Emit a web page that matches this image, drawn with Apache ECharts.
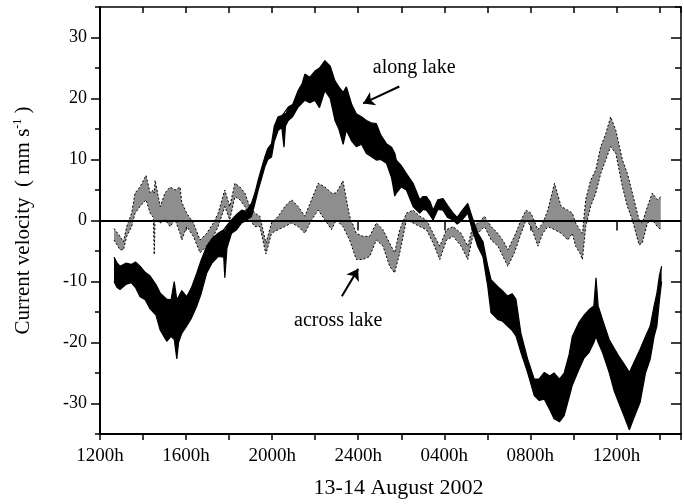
<!DOCTYPE html>
<html>
<head>
<meta charset="utf-8">
<script src="https://cdn.jsdelivr.net/npm/echarts@6/dist/echarts.min.js"></script>
<style>html,body{margin:0;padding:0;background:#fff;}#c{width:684px;height:504px;}</style>
</head>
<body>
<div id="c"></div>
<script>
// ---- data (time in hours from 00:00 on 13 Aug) ----
const alongT  = [12.65,12.8,12.93,13.2,13.45,13.65,13.86,14.1,14.33,14.6,14.8,15.1,15.3,15.45,15.57,15.65,15.8,16.03,16.25,16.5,16.7,16.96,17.2,17.49,17.75,17.8,17.9,18.11,18.35,18.58,18.8,19.04,19.2,19.35,19.5,19.66,19.8,19.97,20.1,20.28,20.45,20.55,20.62,20.75,20.95,21.21,21.4,21.52,21.75,21.99,22.2,22.45,22.7,22.92,23.1,23.3,23.45,23.7,23.91,24.15,24.38,24.6,24.84,25.05,25.31,25.55,25.7,25.77,26.0,26.24,26.55,26.86,27.0,27.17,27.35,27.48,27.7,27.94,28.15,28.41,28.6,28.8,29.09,29.3,29.55,29.8,30.02,30.17,30.48,30.7,30.94,31.15,31.33,31.56,31.87,32.18,32.4,32.65,32.9,33.1,33.35,33.57,33.8,33.95,34.26,34.5,34.73,34.95,35.05,35.15,35.35,35.66,35.9,36.1,36.35,36.6,36.85,37.1,37.35,37.57,37.75,37.88,38.0,38.1];
const alongHi = [-6.0,-7.0,-7.5,-7.0,-7.2,-6.8,-7.5,-8.5,-9.1,-10.5,-11.9,-12.9,-13.0,-10.0,-13.0,-12.5,-11.5,-12.5,-11.0,-8.6,-6.5,-4.2,-3.0,-2.1,-1.5,-1.5,-0.8,0.1,1.0,1.7,1.5,2.8,4.5,6.6,8.5,10.4,11.8,12.6,15.5,17.0,17.2,17.6,17.6,18.6,19.0,21.3,22.5,24.0,23.5,24.5,25.0,26.2,25.3,22.9,21.9,21.0,21.9,19.0,17.5,17.0,16.4,16.0,15.9,14.0,12.6,12.0,11.0,9.9,9.0,7.7,6.1,3.4,3.9,3.9,3.0,1.7,3.4,3.6,2.5,1.2,0.5,1.5,2.8,0.5,-2.0,-3.5,-7.5,-9.7,-10.8,-11.5,-12.4,-12.0,-12.9,-18.5,-22.7,-26.0,-26.0,-24.9,-25.5,-25.0,-26.0,-25.0,-22.0,-19.0,-16.7,-15.5,-14.6,-14.0,-9.4,-14.0,-16.2,-19.5,-21.0,-22.2,-23.5,-24.9,-23.0,-21.1,-19.0,-17.3,-14.0,-11.9,-9.0,-7.5];
const alongLo = [-10.0,-11.0,-11.3,-10.5,-10.2,-11.0,-12.5,-13.0,-14.5,-15.5,-18.0,-19.8,-19.0,-19.5,-22.7,-20.0,-18.5,-17.3,-16.0,-14.0,-12.0,-8.6,-7.0,-5.9,-6.0,-9.4,-4.5,-2.1,-1.5,-0.4,0.0,0.7,2.8,5.0,6.8,8.8,10.0,10.4,13.0,14.8,15.2,12.0,15.5,16.4,17.0,18.6,19.3,19.7,19.3,19.7,18.5,21.3,20.0,16.4,15.0,12.5,14.8,13.0,12.1,12.5,11.0,10.5,9.9,10.0,9.4,7.0,4.0,4.5,5.5,5.0,2.3,1.2,1.8,1.7,0.8,0.1,1.8,1.7,0.5,0.1,-0.6,0.0,1.2,-1.5,-4.2,-6.0,-10.8,-15.1,-16.2,-16.5,-17.3,-18.0,-18.9,-21.6,-24.9,-28.7,-29.5,-29.3,-31.0,-32.5,-33.0,-32.0,-29.0,-27.0,-24.4,-22.5,-21.6,-20.0,-19.0,-20.0,-21.6,-24.9,-28.0,-29.8,-32.0,-34.3,-32.0,-29.8,-25.0,-22.7,-19.0,-17.3,-13.0,-10.0];

const acrossT  = [12.65,12.93,13.09,13.24,13.47,13.63,13.86,14.14,14.33,14.48,14.52,14.56,14.8,15.02,15.26,15.49,15.72,15.8,16.03,16.34,16.65,16.96,17.27,17.49,17.8,18.03,18.27,18.5,18.73,18.96,19.2,19.43,19.71,19.97,20.28,20.59,20.9,21.21,21.52,21.83,22.14,22.45,22.76,22.98,23.29,23.6,23.91,24.22,24.53,24.84,25.15,25.46,25.69,25.93,26.24,26.55,26.86,27.17,27.48,27.79,28.1,28.41,28.78,29.09,29.32,29.56,29.87,30.18,30.49,30.8,30.95,31.26,31.57,31.8,32.03,32.35,32.58,32.81,33.12,33.43,33.74,33.95,34.1,34.3,34.42,34.57,34.8,35.04,35.27,35.5,35.73,35.97,36.28,36.51,36.74,37.05,37.2,37.44,37.67,37.9,38.06];
const acrossHi = [-1.3,-2.6,-3.5,-1.0,1.2,4.5,5.5,7.4,4.5,5.0,4.5,6.6,2.3,4.5,5.5,5.0,5.5,3.0,1.2,-0.4,-3.2,-2.1,-0.4,1.2,5.0,2.3,6.1,5.5,4.5,2.3,1.2,0.7,-3.7,-0.4,0.7,2.3,3.4,2.3,0.7,3.4,6.1,5.5,4.5,4.5,6.5,0.7,-2.1,-2.6,-2.6,-0.4,-1.5,-3.7,-5.3,-1.5,1.2,1.7,0.7,0.1,-2.1,-4.2,-1.5,-1.0,-2.1,-4.2,-1.0,-0.4,0.7,-1.0,-2.1,-3.7,-4.8,-2.6,0.1,1.7,1.2,-1.5,-0.4,1.7,6.1,2.3,1.7,1.2,-0.4,-1.5,-2.1,3.4,6.6,8.3,12.1,14.2,17.0,14.8,9.9,7.7,4.5,0.1,-0.4,2.3,4.5,3.4,3.9];
const acrossLo = [-3.2,-4.8,-4.8,-2.6,-1.0,1.2,2.3,3.4,1.2,0.5,-5.6,0.1,-0.4,0.1,-1.0,0.1,-2.1,-3.2,-1.0,-2.6,-5.3,-4.2,-2.6,-1.0,2.3,0.1,3.9,3.4,2.3,0.1,-1.0,-1.0,-5.5,-2.1,-1.5,-1.0,-0.4,-1.0,-2.1,0.1,1.7,0.1,-1.5,0.1,-1.0,-3.2,-6.4,-6.4,-5.9,-3.2,-4.2,-7.5,-8.6,-5.3,0.1,-0.4,-1.0,-1.5,-3.7,-6.4,-3.2,-2.6,-4.2,-6.4,-2.6,-2.1,-1.0,-3.2,-4.2,-6.4,-7.5,-5.3,-2.1,0.1,-1.0,-4.2,-2.1,-1.0,-1.5,-2.1,-3.2,-2.1,-4.2,-5.3,-6.4,-1.0,2.3,4.5,7.7,9.9,12.1,11.0,5.5,2.3,0.1,-4.0,-3.7,-0.4,0.1,-1.0,-1.5];

const xTickValues = [12,16,20,24,28,32,36];
const xTickLabels = ['1200h','1600h','2000h','2400h','0400h','0800h','1200h'];
const yTickValues = [-30,-20,-10,0,10,20,30];
const yTickLabels = ['-30','-20','-10','0','10','20','30'];

const FONT = '"Liberation Serif","DejaVu Serif",serif';

function band(t, hi, lo) { return t.map((v, i) => [v, hi[i], lo[i]]); }
function pairs(t, v) { return t.map((x, i) => [x, v[i]]); }

// one polygon per band: upper edge forward, lower edge back
function bandRenderer(fill) {
  return function (params, api) {
    if (params.dataIndexInside !== 0) return null;
    const n = params.dataInsideLength;
    const top = [], bot = [];
    for (let i = 0; i < n; i++) {
      top.push(api.coord([api.value(0, i), api.value(1, i)]));
      bot.push(api.coord([api.value(0, i), api.value(2, i)]));
    }
    return {
      type: 'polygon',
      shape: { points: top.concat(bot.reverse()) },
      style: { fill: fill, stroke: null }
    };
  };
}

const chart = echarts.init(document.getElementById('c'), null, { renderer: 'canvas' });

const xBase = { type: 'value', min: 12, max: 39, interval: 2, gridIndex: 0, splitLine: { show: false } };
const yBase = { type: 'value', min: -35, max: 35, interval: 5, gridIndex: 0, splitLine: { show: false } };
const tickLine = { color: '#000', width: 1.5 };

chart.setOption({
  animation: false,
  backgroundColor: '#fff',
  grid: { left: 100, top: 7, width: 581, height: 427, containLabel: false },
  xAxis: [
    Object.assign({}, xBase, {
      position: 'bottom',
      axisLine: { show: true, onZero: false, lineStyle: { color: '#000', width: 2 } },
      axisTick: { show: true, inside: false, length: 6, lineStyle: tickLine },
      axisLabel: { show: false },
      name: '13-14 August 2002', nameLocation: 'middle', nameGap: 43,
      nameTextStyle: { fontFamily: FONT, fontSize: 22, color: '#000', padding: [0, 0, 0, 16] }
    }),
    Object.assign({}, xBase, {
      position: 'bottom',
      axisLine: { show: false },
      axisTick: { show: true, inside: false, length: 10, customValues: xTickValues, lineStyle: tickLine },
      axisLabel: {
        show: true, margin: 13, customValues: xTickValues,
        formatter: v => xTickLabels[xTickValues.indexOf(v)] || '',
        fontFamily: FONT, fontSize: 19, color: '#000'
      }
    }),
    Object.assign({}, xBase, {
      position: 'top',
      axisLine: { show: true, onZero: false, lineStyle: tickLine },
      axisTick: { show: true, inside: true, length: 6, lineStyle: tickLine },
      axisLabel: { show: false }
    }),
    Object.assign({}, xBase, {
      position: 'top',
      axisLine: { show: false },
      axisTick: { show: true, inside: true, length: 9, customValues: xTickValues, lineStyle: tickLine },
      axisLabel: { show: false }
    })
  ],
  yAxis: [
    Object.assign({}, yBase, {
      position: 'left',
      axisLine: { show: true, onZero: false, lineStyle: { color: '#000', width: 2 } },
      axisTick: { show: true, inside: false, length: 5, lineStyle: tickLine },
      axisLabel: { show: false },
      name: 'Current velocity  ( mm s{sup|-1} )', nameLocation: 'middle', nameGap: 66,
      nameTextStyle: {
        fontFamily: FONT, fontSize: 21, color: '#000',
        rich: { sup: { fontFamily: FONT, fontSize: 12, verticalAlign: 'top', padding: [0, 0, 10, 0], color: '#000' } }
      }
    }),
    Object.assign({}, yBase, {
      position: 'left',
      axisLine: { show: false },
      axisTick: { show: true, inside: false, length: 9, customValues: yTickValues, lineStyle: tickLine },
      axisLabel: {
        show: true, margin: 13, customValues: yTickValues,
        formatter: v => yTickLabels[yTickValues.indexOf(v)] || '',
        fontFamily: FONT, fontSize: 18, color: '#000'
      }
    }),
    Object.assign({}, yBase, {
      position: 'right',
      axisLine: { show: true, onZero: false, lineStyle: tickLine },
      axisTick: { show: true, inside: true, length: 6, lineStyle: tickLine },
      axisLabel: { show: false }
    }),
    Object.assign({}, yBase, {
      position: 'right',
      axisLine: { show: false },
      axisTick: { show: true, inside: true, length: 10, customValues: yTickValues, lineStyle: tickLine },
      axisLabel: { show: false }
    })
  ],
  series: [
    {
      name: 'across lake band', type: 'custom', xAxisIndex: 0, yAxisIndex: 0,
      renderItem: bandRenderer('#8e8e8e'), clip: true, silent: true,
      encode: { x: 0, y: [1, 2] },
      data: band(acrossT, acrossHi, acrossLo), z: 2
    },
    {
      name: 'across lake upper', type: 'line', xAxisIndex: 0, yAxisIndex: 0, symbol: 'none', silent: true,
      lineStyle: { color: '#000', width: 1, type: [2, 2] }, data: pairs(acrossT, acrossHi), z: 3
    },
    {
      name: 'across lake lower', type: 'line', xAxisIndex: 0, yAxisIndex: 0, symbol: 'none', silent: true,
      lineStyle: { color: '#000', width: 1, type: [2, 2] }, data: pairs(acrossT, acrossLo), z: 3
    },
    {
      name: 'along lake band', type: 'custom', xAxisIndex: 0, yAxisIndex: 0,
      renderItem: bandRenderer('#000'), clip: true, silent: true,
      encode: { x: 0, y: [1, 2] },
      data: band(alongT, alongHi, alongLo), z: 4
    },
    {
      name: 'along lake upper', type: 'line', xAxisIndex: 0, yAxisIndex: 0, symbol: 'none', silent: true,
      lineStyle: { color: '#000', width: 1.2 }, data: pairs(alongT, alongHi), z: 5,
      markLine: {
        silent: true, symbol: ['none', 'none'], animation: false,
        label: { show: false },
        lineStyle: { color: '#000', width: 2, type: 'solid' },
        data: [{ yAxis: 0 }]
      }
    },
    {
      name: 'along lake lower', type: 'line', xAxisIndex: 0, yAxisIndex: 0, symbol: 'none', silent: true,
      lineStyle: { color: '#000', width: 1.2 }, data: pairs(alongT, alongLo), z: 5,
      markLine: {
        silent: true, symbol: ['none', 'arrow'], symbolSize: 11, animation: false,
        label: { show: false },
        itemStyle: { color: '#000' },
        lineStyle: { color: '#000', width: 2, type: 'solid' },
        data: [
          [{ coord: [25.91, 21.97], symbol: 'none' }, { coord: [24.23, 19.2], symbol: 'arrow', symbolSize: 11 }],
          [{ coord: [23.24, -12.4], symbol: 'none' }, { coord: [24.0, -7.93], symbol: 'arrow', symbolSize: 11 }]
        ]
      },
      markPoint: {
        silent: true, symbol: 'circle', symbolSize: 0, animation: false,
        label: { show: true, position: 'inside', fontFamily: FONT, fontSize: 20, color: '#000', formatter: p => p.name },
        data: [
          { name: 'along lake', coord: [26.6, 25.0] },
          { name: 'across lake', coord: [23.07, -16.5] }
        ]
      }
    }
  ]
});
</script>
</body>
</html>
